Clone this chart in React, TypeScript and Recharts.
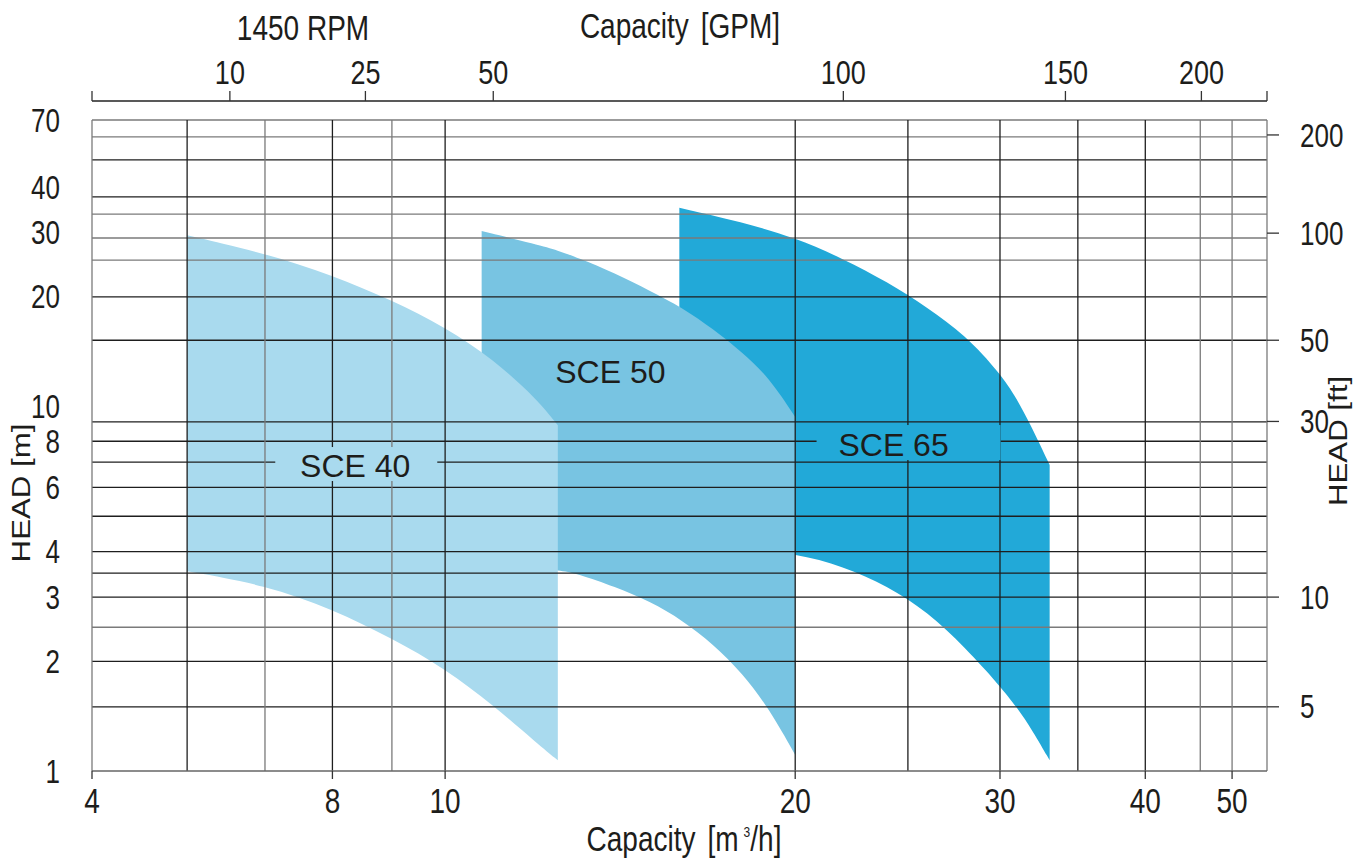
import { Area, ComposedChart, ReferenceDot, ReferenceLine, XAxis, YAxis } from 'recharts';

// pump ranges, capacity in m3/h and head in m (upper and lower curve at the same flows)
const sce40Flow = [6, 7, 8, 9, 10, 11, 12, 12.5];
const sce40HeadMax = [29.5, 26.34, 22.92, 19.56, 16.52, 13.49, 10.47, 8.88];
const sce40HeadMin = [3.53, 3.24, 2.78, 2.31, 1.91, 1.515, 1.19, 1.07];

const sce50Flow = [10.75, 12, 12.5, 13, 14, 15, 16, 17, 18, 19, 20];
const sce50HeadMax = [30.3, 27.8, 26.8, 25.6, 23.2, 20.78, 18.67, 16.32, 14.1, 12.0, 9.36];
const sce50HeadMin = [3.6, 3.58, 3.56, 3.48, 3.2, 2.92, 2.59, 2.23, 1.86, 1.48, 1.106];

const sce65Flow = [15.9, 18, 20, 22, 24, 26, 28, 30, 31, 32, 33.1];
const sce65HeadMax = [35.1, 32.08, 29.05, 25.42, 21.97, 18.67, 15.71, 12.34, 10.55, 8.68, 6.91];
const sce65HeadMin = [4.1, 4.05, 3.96, 3.64, 3.22, 2.73, 2.18, 1.71, 1.5, 1.29, 1.07];

const flowDomain = [4.97, 50.9];
const headDomain = [1, 68.9];
const headBoxTop = 61.1;

const flowTicks = [4.97, 8, 10, 20, 30, 40, 47.5];
const flowTickLabels = ['4', '8', '10', '20', '30', '40', '50'];
const gpmTicks = [4.97, 6.53, 8.54, 11.0, 22.0, 34.15, 44.7, 50.9];
const gpmTickLabels = ['', '10', '25', '50', '100', '150', '200', ''];
const headTicks = [1, 2, 3, 4, 6, 8, 10, 20, 30, 40, 61.1];
const headTickLabels = ['1', '2', '3', '4', '6', '8', '10', '20', '30', '40', '70'];
const ftTicks = [1.5, 3.0, 9.1, 15.2, 29.9, 55.6];
const ftTickLabels = ['5', '10', '30', '50', '100', '200'];

const flowGridDark = [6, 8, 10, 20, 25, 30, 35, 40];
const flowGridLight = [7, 9, 44.6, 47.5];
const headGridDark = [1.5, 2, 3, 3.49, 4, 5, 6, 7.04, 8.03, 9.07, 15.2, 20, 37.6, 47.5];
const headGridLight = [2.48, 25.2, 29.0, 33.7, 54.9, 61.1];

const pumpLabels = [
  { name: 'SCE 40', flow: 8.37, head: 6.91 },
  { name: 'SCE 50', flow: 13.87, head: 12.44 },
  { name: 'SCE 65', flow: 24.3, head: 7.89 },
];

const toRows = (flow: number[], lo: number[], hi: number[]) => flow.map((q, i) => ({ q, head: [lo[i], hi[i]] }));
const sce40 = toRows(sce40Flow, sce40HeadMin, sce40HeadMax);
const sce50 = toRows(sce50Flow, sce50HeadMin, sce50HeadMax);
const sce65 = toRows(sce65Flow, sce65HeadMin, sce65HeadMax);

const COLORS: Record<string, string> = { 'SCE 40': '#a9daee', 'SCE 50': '#78c4e2', 'SCE 65': '#22a9d8' };
// knockout box round each label, relative to its centre
const KNOCKOUT: Record<string, number[] | null> = { 'SCE 40': [-80, -18, 162, 34], 'SCE 50': null, 'SCE 65': [-77, -19, 184, 35] };

const FONT = "'Liberation Sans', Arial, Helvetica, sans-serif";
const INK = '#1d1d1b';
const DARK = '#1e1e1e';
const LIGHT = '#7a7a7a';
const STRETCH = 1.25;

function labelFor(ticks: number[], labels: string[], v: number) {
  const i = ticks.findIndex(t => Math.abs(t - v) < 1e-6);
  return i >= 0 ? labels[i] : '';
}

function StretchText({ x, y, size, anchor = 'middle', children }: any) {
  return (
    <text transform={`translate(${x},${y}) scale(1,${STRETCH})`} textAnchor={anchor} fontSize={size} fontFamily={FONT} fill={INK}>
      {children}
    </text>
  );
}

const BottomTick = (p: any) => (
  <StretchText x={p.x} y={p.y + 28 * 0.716 * STRETCH} size={28}>{labelFor(flowTicks, flowTickLabels, p.payload.value)}</StretchText>
);
const TopTick = (p: any) => (
  <StretchText x={p.x} y={p.y} size={27}>{labelFor(gpmTicks, gpmTickLabels, p.payload.value)}</StretchText>
);
const LeftTick = (p: any) => (
  <StretchText x={p.x} y={p.y + (26 * 0.716 * STRETCH) / 2} size={26} anchor="end">{labelFor(headTicks, headTickLabels, p.payload.value)}</StretchText>
);
const RightTick = (p: any) => (
  <StretchText x={p.x} y={p.y + (26 * 0.716 * STRETCH) / 2} size={26} anchor="start">{labelFor(ftTicks, ftTickLabels, p.payload.value)}</StretchText>
);

function PumpLabel({ cx, cy, name }: any) {
  const box = KNOCKOUT[name];
  return (
    <g>
      {box && <rect x={cx + box[0]} y={cy + box[1]} width={box[2]} height={box[3]} fill={COLORS[name]} />}
      <text x={cx} y={cy + 11.5} textAnchor="middle" fontSize={32} fontFamily={FONT} fill={INK}>{name}</text>
    </g>
  );
}

export default function App() {
  const vLine = (q: number, color: string) => (
    <ReferenceLine key={`v${q}`} xAxisId="m3h" yAxisId="m" ifOverflow="visible" segment={[{ x: q, y: headDomain[0] }, { x: q, y: headBoxTop }]} stroke={color} strokeWidth={1.3} />
  );
  const hLine = (h: number, color: string) => (
    <ReferenceLine key={`h${h}`} xAxisId="m3h" yAxisId="m" ifOverflow="visible" y={h} stroke={color} strokeWidth={1.3} />
  );

  return (
    <div style={{ position: 'absolute', left: 0, top: 0, width: 1355, height: 865, background: '#fff' }}>
      <ComposedChart width={1355} height={865} margin={{ top: 0, right: 0, bottom: 0, left: 0 }}>
        <XAxis xAxisId="m3h" dataKey="q" type="number" scale="log" domain={flowDomain} allowDataOverflow ticks={flowTicks} interval={0} height={94}
          tick={BottomTick} tickSize={8} tickMargin={9} axisLine={{ stroke: '#666', strokeWidth: 1.3 }} tickLine={{ stroke: '#333', strokeWidth: 1.3 }} />
        <XAxis xAxisId="gpm" dataKey="q" orientation="top" type="number" scale="log" domain={flowDomain} allowDataOverflow ticks={gpmTicks} interval={0} height={101}
          tick={TopTick} tickSize={10} tickMargin={7} axisLine={{ stroke: '#222', strokeWidth: 1.3 }} tickLine={{ stroke: '#333', strokeWidth: 1.3 }} />
        <YAxis yAxisId="m" type="number" scale="log" domain={headDomain} allowDataOverflow ticks={headTicks} interval={0} width={92}
          tick={LeftTick} tickSize={0} tickMargin={32} axisLine={false} tickLine={false} />
        <YAxis yAxisId="ft" orientation="right" type="number" scale="log" domain={headDomain} allowDataOverflow ticks={ftTicks} interval={0} width={88}
          tick={RightTick} tickSize={12} tickMargin={21} axisLine={false} tickLine={{ stroke: '#333', strokeWidth: 1.3 }} />

        <Area data={sce65} xAxisId="m3h" yAxisId="m" dataKey="head" type="basis" stroke="none" fill={COLORS['SCE 65']} fillOpacity={1} dot={false} activeDot={false} isAnimationActive={false} />
        <Area data={sce50} xAxisId="m3h" yAxisId="m" dataKey="head" type="basis" stroke="none" fill={COLORS['SCE 50']} fillOpacity={1} dot={false} activeDot={false} isAnimationActive={false} />
        {/* same log scale as the bottom axis; tying a series to it lets the GPM axis draw its ticks */}
        <Area data={sce40} xAxisId="gpm" yAxisId="m" dataKey="head" type="basis" stroke="none" fill={COLORS['SCE 40']} fillOpacity={1} dot={false} activeDot={false} isAnimationActive={false} />

        {headGridLight.map(h => hLine(h, LIGHT))}
        {headGridDark.map(h => hLine(h, DARK))}
        {flowGridLight.map(q => vLine(q, LIGHT))}
        {flowGridDark.map(q => vLine(q, DARK))}
        {vLine(flowDomain[0], LIGHT)}
        {vLine(flowDomain[1], LIGHT)}

        {pumpLabels.map(l => (
          <ReferenceDot key={l.name} xAxisId="m3h" yAxisId="m" x={l.flow} y={l.head} r={0} zIndex={2500}
            shape={(p: any) => <PumpLabel cx={p.cx} cy={p.cy} name={l.name} />} />
        ))}
      </ComposedChart>

      <svg width={1355} height={865} style={{ position: 'absolute', left: 0, top: 0, pointerEvents: 'none' }}>
        <StretchText x={303} y={40} size={28}>1450 RPM</StretchText>
        <StretchText x={680} y={38} size={28}>
          <tspan>Capacity</tspan><tspan dx={12}>[GPM]</tspan>
        </StretchText>
        <StretchText x={684} y={851} size={28}>
          <tspan>Capacity</tspan><tspan dx={12}>[m</tspan><tspan dx={5} dy={-11} fontSize={12}>3</tspan><tspan dy={11}>/h]</tspan>
        </StretchText>
        <text transform={`translate(30,493) rotate(-90) scale(${STRETCH},1)`} textAnchor="middle" fontSize={25} fontFamily={FONT} fill={INK}>HEAD [m]</text>
        <text transform={`translate(1347,441) rotate(-90) scale(${STRETCH},1)`} textAnchor="middle" fontSize={25} fontFamily={FONT} fill={INK}>HEAD [ft]</text>
      </svg>
    </div>
  );
}
